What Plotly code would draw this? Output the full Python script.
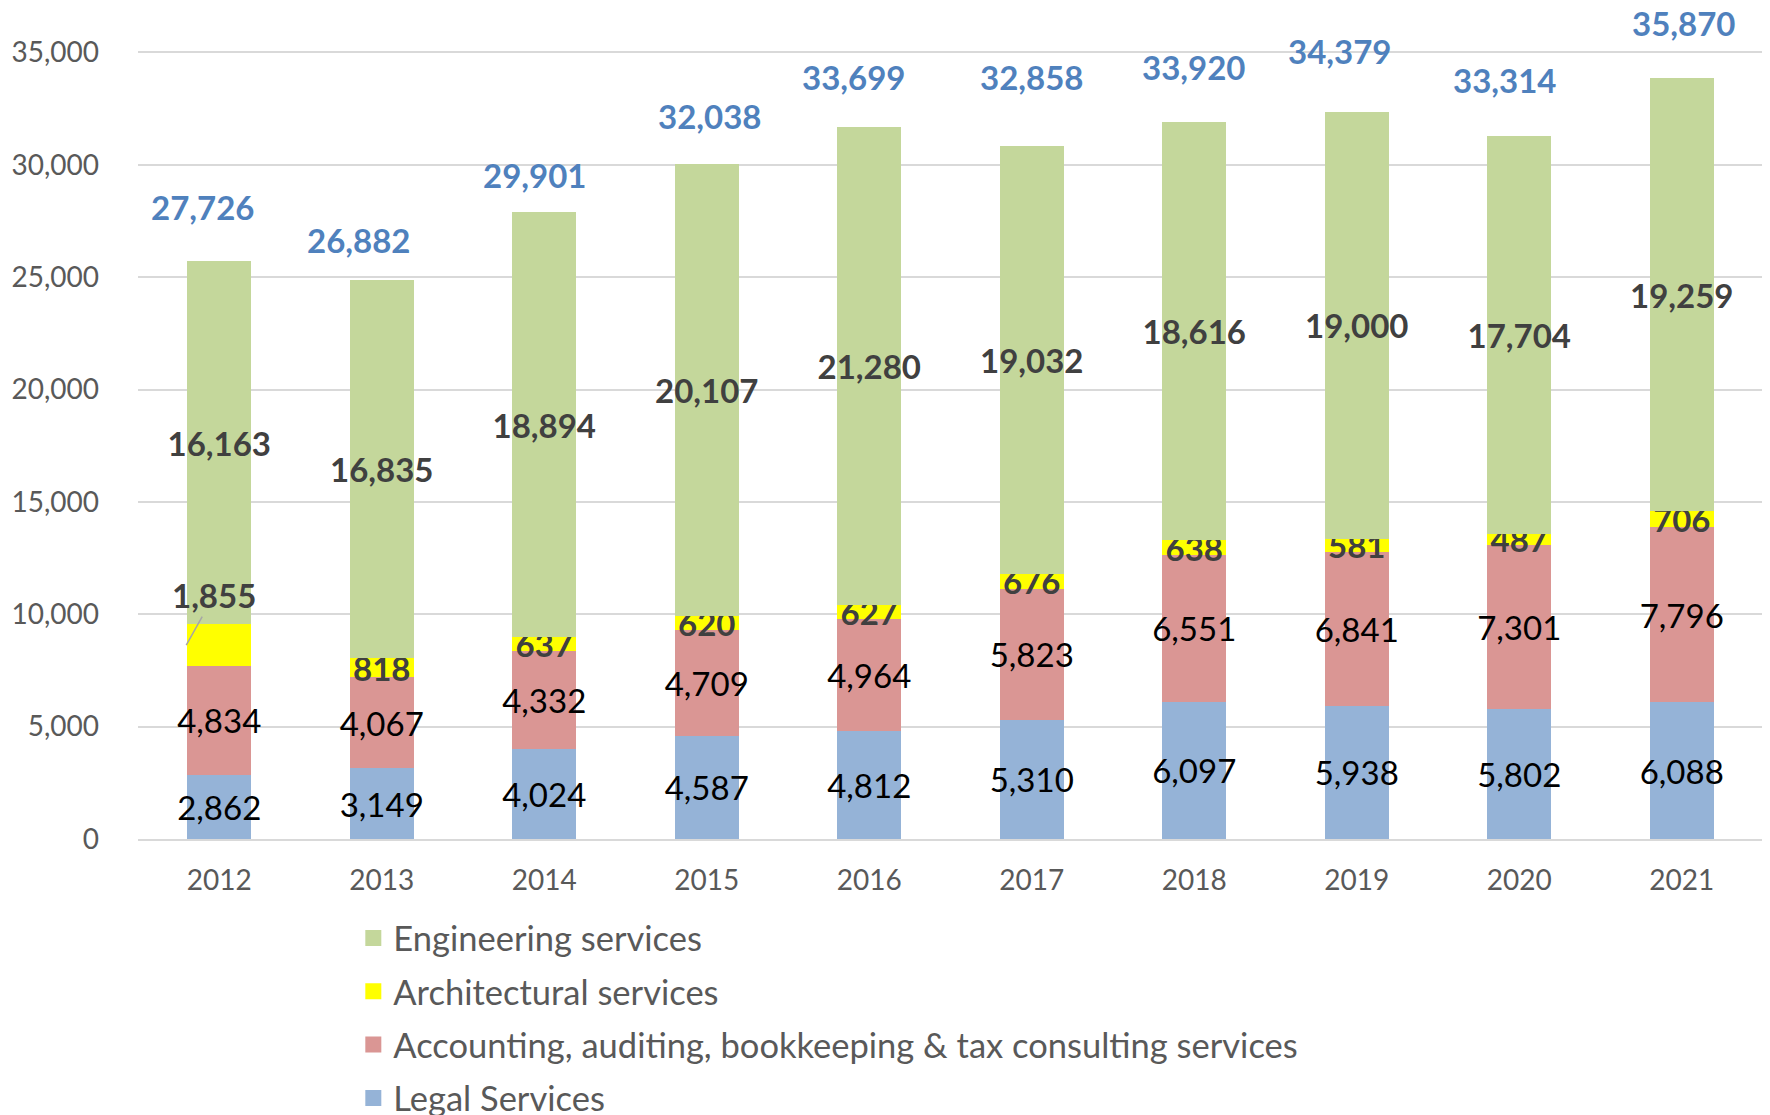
import plotly.graph_objects as go

# Данные
years = ["2012", "2013", "2014", "2015", "2016", "2017", "2018", "2019", "2020", "2021"]
legal = [2862, 3149, 4024, 4587, 4812, 5310, 6097, 5938, 5802, 6088]
accounting = [4834, 4067, 4332, 4709, 4964, 5823, 6551, 6841, 7301, 7796]
architectural = [1855, 818, 637, 620, 627, 676, 638, 581, 487, 706]
engineering = [16163, 16835, 18894, 20107, 21280, 19032, 18616, 19000, 17704, 19259]
totals = [27726, 26882, 29901, 32038, 33699, 32858, 33920, 34379, 33314, 35870]

# Подписи итогов в оригинале расставлены вручную — сдвиги в пикселях
total_dx = [-17, -23, -10, 3, -16, 0, -1, -17, -15, 2]
total_dy = [9, -5, -8, 3, 5, 24, 10, 15, 10, 10]

FONT = "Lato"
GRID = "#D9D9D9"
TICK = "#595959"
LBL = 33


def fmt(values):
    return [f"{v:,}" for v in values]


fig = go.Figure()

series = [
    ("Legal Services", legal, "#95B3D7", dict(color="black"), fmt(legal)),
    ("Accounting, auditing, bookkeeping & tax consulting services", accounting, "#DA9694",
     dict(color="black"), fmt(accounting)),
    # подпись 2012 вынесена отдельно с выноской
    ("Architectural services", architectural, "#FFFF00",
     dict(color="#404040", weight="bold"), [""] + fmt(architectural[1:])),
    ("Engineering services", engineering, "#C4D79B",
     dict(color="#404040", weight="bold"), fmt(engineering)),
]

for name, vals, color, tfont, text in series:
    fig.add_trace(go.Bar(
        x=years,
        y=vals,
        name=name,
        marker=dict(color=color, line=dict(width=0)),
        text=text,
        textposition="inside",
        insidetextanchor="middle",
        textangle=0,
        constraintext="none",
        textfont=dict(family=FONT, size=LBL, **tfont),
        cliponaxis=False,
        showlegend=False,
        hoverinfo="skip",
    ))

# Легенда: пустые маркеры-квадраты (у столбцов значок слишком мелкий)
for i, (name, vals, color, tfont, text) in enumerate(reversed(series)):
    fig.add_trace(go.Scatter(
        x=[None],
        y=[None],
        mode="markers",
        name=name,
        marker=dict(symbol="square", size=16, color=color),
        legendgroup=f"g{i}",
        showlegend=True,
    ))

# Выноска для 1,855 (2012); на категориальной оси x задаётся индексом
fig.add_annotation(
    x=0,
    y=legal[0] + accounting[0] + architectural[0] * 0.5,
    xshift=-33,
    ax=28,
    ay=-50,
    text=f"{architectural[0]:,}",
    showarrow=True,
    arrowhead=0,
    arrowwidth=1.5,
    arrowcolor="#A6A6A6",
    font=dict(family=FONT, size=LBL, color="#404040", weight="bold"),
)

# Итоговые значения над столбцами
for i, tot in enumerate(totals):
    fig.add_annotation(
        x=i,
        y=tot,
        xshift=total_dx[i],
        yshift=total_dy[i],
        text=f"{tot:,}",
        showarrow=False,
        yanchor="middle",
        font=dict(family=FONT, size=LBL, color="#4F81BD", weight="bold"),
    )

# страница добавляет отступ body 8px, поэтому фигура чуть меньше окна
fig.update_layout(
    width=1762,
    height=1107,
    barmode="stack",
    bargap=0.605,
    plot_bgcolor="white",
    paper_bgcolor="white",
    margin=dict(l=130, r=7, t=21.5, b=276, autoexpand=False),
    font=dict(family=FONT, color=TICK),
    legend=dict(
        orientation="v",
        traceorder="grouped",
        tracegroupgap=5.5,
        itemsizing="trace",
        x=0.1325,
        y=-0.0865,
        xanchor="left",
        yanchor="top",
        font=dict(family=FONT, size=34.5, color=TICK),
        itemclick=False,
    ),
)

fig.update_xaxes(
    type="category",
    range=[-0.5, len(years) - 0.5],
    automargin=False,
    showgrid=False,
    showline=True,
    linecolor=GRID,
    linewidth=2,
    ticks="",
    tickfont=dict(family=FONT, size=28, color=TICK),
    ticklabelstandoff=15,
)

fig.update_yaxes(
    range=[0, 36000],
    tickvals=[0, 5000, 10000, 15000, 20000, 25000, 30000, 35000],
    tickformat=",",
    automargin=False,
    showgrid=True,
    gridcolor=GRID,
    gridwidth=2,
    zeroline=False,
    showline=False,
    ticks="",
    tickfont=dict(family=FONT, size=28, color=TICK),
    ticklabelstandoff=38,
)

fig.write_html("out.html")
